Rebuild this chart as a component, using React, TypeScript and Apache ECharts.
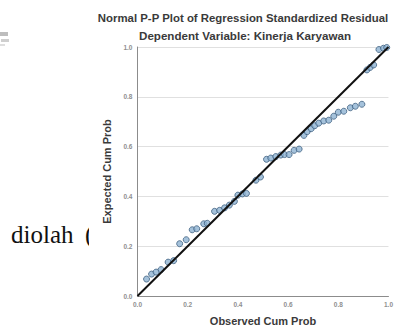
import React, { useEffect, useRef } from "react";
import * as echarts from "echarts";

const titleText = "Normal P-P Plot of Regression Standardized Residual";
const subtitleText = "Dependent Variable: Kinerja Karyawan";
const xAxisName = "Observed Cum Prob";
const yAxisName = "Expected Cum Prob";
const sideWord = "diolah";
const sideParen = "(";

const observed = [
  0.036, 0.056, 0.074, 0.094, 0.122, 0.144, 0.168, 0.194, 0.218, 0.236,
  0.264, 0.278, 0.307, 0.327, 0.347, 0.366, 0.386, 0.4, 0.418, 0.434,
  0.472, 0.49, 0.514, 0.531, 0.551, 0.571, 0.586, 0.604, 0.624, 0.644,
  0.663, 0.676, 0.692, 0.706, 0.722, 0.742, 0.762, 0.782, 0.8, 0.822,
  0.848, 0.868, 0.894, 0.914, 0.927, 0.941, 0.962, 0.98, 0.993,
];
const expected = [
  0.068, 0.088, 0.096, 0.106, 0.136, 0.142, 0.21, 0.226, 0.266, 0.27,
  0.29, 0.292, 0.34, 0.344, 0.354, 0.365, 0.38, 0.405, 0.41, 0.412,
  0.465, 0.478, 0.549, 0.554, 0.56, 0.566, 0.568, 0.568, 0.585, 0.59,
  0.645, 0.66, 0.672, 0.684, 0.694, 0.703, 0.706, 0.722, 0.738, 0.742,
  0.756, 0.762, 0.77, 0.908, 0.918, 0.928, 0.99, 0.995, 0.998,
];
const diagonal = [
  [0, 0],
  [1, 1],
];

export default function App() {
  const ref = useRef<HTMLDivElement>(null);
  useEffect(() => {
    if (!ref.current) return;
    const chart = echarts.init(ref.current, undefined, { renderer: "svg" });
    const points = observed.map((x, i) => [x, expected[i]]);
    const tickLabel = {
      fontFamily: "Arial, Liberation Sans, sans-serif",
      fontSize: 6.5,
      fontWeight: "bold" as const,
      color: "#8f8f8f",
      formatter: (v: number) => v.toFixed(1),
    };
    const nameStyle = {
      fontFamily: "Arial, Liberation Sans, sans-serif",
      fontSize: 11,
      fontWeight: "bold" as const,
      color: "#3a3a3a",
    };
    chart.setOption({
      animation: false,
      backgroundColor: "#ffffff",
      grid: { left: 137.5, right: 6, top: 47, bottom: 32, containLabel: false },
      xAxis: {
        type: "value",
        min: 0,
        max: 1,
        interval: 0.2,
        name: xAxisName,
        nameLocation: "middle",
        nameGap: 19,
        nameTextStyle: nameStyle,
        axisLine: { show: true, lineStyle: { color: "#8c8c8c", width: 1 } },
        axisTick: { show: false },
        splitLine: { show: false },
        axisLabel: { ...tickLabel, margin: 5 },
      },
      yAxis: {
        type: "value",
        min: 0,
        max: 1,
        interval: 0.2,
        name: yAxisName,
        nameLocation: "middle",
        nameGap: 23,
        nameTextStyle: nameStyle,
        axisLine: { show: true, lineStyle: { color: "#8c8c8c", width: 1 } },
        axisTick: { show: false },
        splitLine: { show: true, lineStyle: { color: "#e0e0e0", width: 1 } },
        axisLabel: { ...tickLabel, margin: 5 },
      },
      graphic: [
        {
          type: "text",
          left: 11,
          top: 222,
          z: 1,
          style: {
            text: sideWord,
            font: "25px 'Liberation Serif', 'Times New Roman', serif",
            fill: "#111",
          },
        },
        {
          type: "text",
          left: 85,
          top: 222,
          z: 1,
          style: {
            text: sideParen,
            font: "25px 'Liberation Serif', 'Times New Roman', serif",
            fill: "#111",
          },
        },
        {
          type: "rect",
          shape: { x: 89, y: 215, width: 12, height: 40 },
          z: 2,
          style: { fill: "#ffffff" },
        },
        {
          type: "rect",
          shape: { x: 0, y: 32, width: 8, height: 4 },
          style: { fill: "#bdbdbd" },
        },
        {
          type: "rect",
          shape: { x: 1, y: 39, width: 8, height: 3 },
          style: { fill: "#cfcfcf" },
        },
        {
          type: "rect",
          shape: { x: 0, y: 44, width: 5, height: 2 },
          style: { fill: "#dedede" },
        },
        {
          type: "text",
          x: 243,
          y: 18,
          style: {
            text: titleText,
            align: "center",
            verticalAlign: "middle",
            font: "bold 11.4px Arial, 'Liberation Sans', sans-serif",
            fill: "#3a3a3a",
          },
        },
        {
          type: "text",
          x: 245,
          y: 35,
          style: {
            text: subtitleText,
            align: "center",
            verticalAlign: "middle",
            font: "bold 11.6px Arial, 'Liberation Sans', sans-serif",
            fill: "#3a3a3a",
          },
        },
      ],
      series: [
        {
          type: "scatter",
          data: points,
          symbol: "circle",
          symbolSize: 6,
          itemStyle: { color: "#8fb3d2", borderColor: "#3d5f80", borderWidth: 1 },
          z: 3,
        },
        {
          type: "line",
          data: diagonal,
          showSymbol: false,
          symbol: "none",
          lineStyle: { color: "#111111", width: 2 },
          z: 4,
        },
      ],
    });
    return () => chart.dispose();
  }, []);
  return (
    <div
      ref={ref}
      style={{ position: "fixed", left: 0, top: 0, width: 396, height: 331 }}
    />
  );
}
